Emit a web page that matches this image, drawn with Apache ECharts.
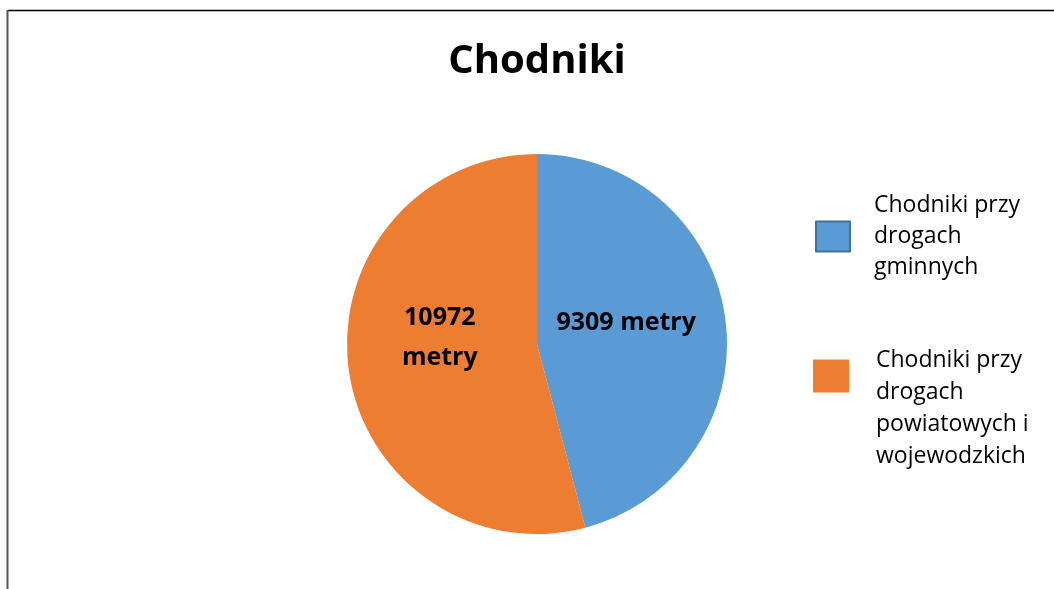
<!DOCTYPE html>
<html>
<head>
<meta charset="utf-8">
<script src="https://cdn.jsdelivr.net/npm/echarts@6/dist/echarts.min.js"></script>
<style>
  html, body { margin: 0; padding: 0; background: #fff; }
  #pie_chart { width: 1054px; height: 589px; }
</style>
</head>
<body>
<div id="pie_chart"></div>
<script>
var categories = ['Chodniki przy drogach gminnych', 'Chodniki przy drogach powiatowych i wojewodzkich'];
var legendLabels = ['Chodniki przy\ndrogach\ngminnych', '\n\nChodniki przy\ndrogach\npowiatowych i\nwojewodzkich'];
var values = [9309, 10972];
var sliceLabels = ['9309 metry', '10972\nmetry'];
var colors = ['#5B9BD5', '#ED7D31'];

var pie_chart = echarts.init(document.getElementById('pie_chart'));

var font = '"Open Sans", sans-serif';
// small nudges so the labels sit where the original puts them
var labelShift = [[-8, -9], [0, -19]];

pie_chart.setOption({
  backgroundColor: '#fff',
  animation: false,
  title: {
    text: 'Chodniki',
    left: 532,
    textAlign: 'center',
    top: 37,
    textStyle: {
      fontSize: 40,
      fontWeight: 'bold',
      fontFamily: font,
      color: '#000'
    }
  },
  graphic: [
    { type: 'line', shape: { x1: 8, y1: 10.5, x2: 1054, y2: 10.5 }, style: { stroke: '#000', lineWidth: 1.5 } },
    { type: 'line', shape: { x1: 7.5, y1: 10, x2: 7.5, y2: 589 }, style: { stroke: '#555', lineWidth: 2 } }
  ],
  legend: [
    {
      left: 815,
      top: 190,
      padding: 0,
      icon: 'rect',
      itemWidth: 34,
      itemHeight: 30,
      data: [{ name: categories[0], itemStyle: { borderColor: '#41719C', borderWidth: 2 } }],
      formatter: function () { return legendLabels[0]; },
      textStyle: { fontFamily: font, fontSize: 23, lineHeight: 31, color: '#000', padding: [0, 0, 0, 19] }
    },
    {
      left: 813,
      top: 280,
      padding: 0,
      icon: 'rect',
      itemWidth: 36,
      itemHeight: 33,
      data: [{ name: categories[1], itemStyle: { borderWidth: 0 } }],
      formatter: function () { return legendLabels[1]; },
      textStyle: { fontFamily: font, fontSize: 23, lineHeight: 32, color: '#000', padding: [0, 0, 0, 22] }
    }
  ],
  series: [
    {
      type: 'pie',
      center: [537, 344],
      radius: 190,
      startAngle: 90,
      clockwise: true,
      color: colors,
      itemStyle: { borderWidth: 0 },
      label: {
        show: true,
        position: 'inside',
        fontFamily: font,
        fontSize: 25,
        fontWeight: 'bold',
        color: '#000',
        lineHeight: 40,
        formatter: function (p) { return sliceLabels[p.dataIndex]; }
      },
      labelLayout: function (p) {
        return { dx: labelShift[p.dataIndex][0], dy: labelShift[p.dataIndex][1] };
      },
      labelLine: { show: false },
      emphasis: { disabled: true },
      data: categories.map(function (name, i) {
        return { name: name, value: values[i] };
      })
    }
  ]
});
</script>
</body>
</html>
